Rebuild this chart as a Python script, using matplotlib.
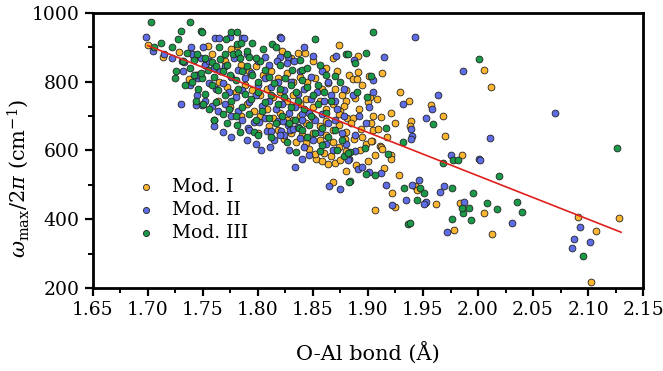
import matplotlib
matplotlib.use("Agg")
import matplotlib.pyplot as plt
from matplotlib.ticker import MultipleLocator

plt.rcParams['font.family'] = ['DejaVu Serif']
plt.rcParams['mathtext.fontset'] = 'dejavuserif'

# Mod. I (yellow)
mod1 = [(1.700,907),(1.714,873),(1.728,886),(1.737,808),(1.836,885),(1.843,885),(1.874,907),(1.891,875),
        (1.891,828),(1.883,820),(1.886,808),(1.890,808),(1.901,816),(1.913,825),(1.929,770),(1.937,744),
        (1.957,733),(1.968,701),(1.970,643),(1.939,685),(1.938,670),(1.921,709),(1.908,750),(1.902,756),
        (1.880,775),(1.888,753),(1.880,743),(1.878,728),(1.875,714),(1.905,701),(1.912,698),(1.881,695),
        (1.886,695),(1.903,680),(1.894,661),(1.905,659),(1.909,663),(1.917,640),(1.887,634),(1.879,634),
        (1.904,627),(1.898,620),(1.911,612),(1.985,588),(1.912,611),(1.913,603),(1.921,588),(1.921,574),
        (1.906,586),(1.903,627),(1.889,557),(1.928,528),(1.868,508),(1.922,475),(1.925,436),(1.906,426),
        (1.943,497),(1.945,485),(1.962,444),(1.984,446),(1.978,368),(2.005,834),(2.012,786),(2.005,419),
        (2.013,356),(2.091,407),(2.107,367),(2.128,403),(2.103,217),(1.824,634),(1.835,625),(1.844,622),
        (1.832,690),(1.853,574),(1.860,593),(1.864,561),(1.870,562),(1.875,571),(1.781,905),
        (1.758,880),(1.770,860),(1.776,895),(1.785,850),(1.792,830),(1.798,845),(1.805,820),(1.812,830),
        (1.818,810),(1.826,825),(1.832,800),(1.838,815),(1.845,800),(1.852,810),(1.858,780),(1.864,795),
        (1.870,780),(1.876,760),(1.765,800),(1.772,785),(1.780,770),(1.788,790),(1.795,775),(1.802,760),
        (1.808,780),(1.814,755),(1.820,770),(1.826,745),(1.832,760),(1.838,735),(1.844,750),(1.850,725),
        (1.856,745),(1.862,720),(1.868,735),(1.874,705),(1.790,735),(1.796,715),(1.802,700),(1.808,720),
        (1.814,695),(1.820,710),(1.826,690),(1.838,700),(1.844,680),(1.850,695),(1.856,670),(1.862,685),
        (1.868,660),(1.874,675),(1.880,655),(1.850,650),(1.856,630),(1.862,645),(1.868,625),(1.874,610),
        (1.880,598),(1.846,605),(1.852,590),(1.858,570),(1.866,585),(1.818,660),(1.810,670),(1.830,650),
        (1.840,645),(1.800,650),(1.785,700),(1.775,725),(1.764,745),(1.760,690),(1.752,850),(1.745,820),
        (1.742,870),(1.755,905),(1.830,870),(1.822,890),(1.850,860),(1.862,840),(1.868,870),(1.872,830),
        (1.895,790),(1.900,740),(1.892,720),(1.885,680),(1.895,640),(1.893,600),(1.900,570),(1.915,550),
        (1.880,540),(1.925,680)]

# Mod. II (blue)
mod2 = [(1.698,931),(1.739,902),(1.731,861),(1.733,857),(1.746,812),(1.730,735),(1.744,731),(1.749,731),
        (1.761,927),(1.765,927),(1.786,927),(1.820,930),(1.842,900),(1.850,876),(1.871,876),(1.806,873),
        (1.943,931),(1.986,832),(1.915,873),(1.887,862),(1.905,805),(1.932,736),(1.964,760),(1.958,721),
        (1.953,693),(1.939,661),(1.940,641),(1.939,634),(1.870,743),(1.901,725),(1.905,769),(1.888,646),
        (1.975,588),(2.001,574),(1.888,598),(1.883,574),(1.891,547),(1.895,553),(1.901,538),(1.912,535),
        (1.875,487),(1.916,500),(1.922,442),(1.935,457),(1.940,500),(1.946,513),(1.952,448),(1.953,450),
        (1.951,443),(1.965,480),(1.969,497),(1.987,451),(1.972,363),(2.070,710),(2.011,635),(2.002,573),
        (2.031,389),(2.093,376),(2.087,343),(2.102,334),(2.085,316),(1.786,690),(1.796,683),(1.801,683),
        (1.806,693),(1.791,664),(1.792,659),(1.790,630),(1.808,656),(1.812,658),(1.811,611),(1.818,687),
        (1.823,687),(1.827,675),(1.821,656),(1.824,646),(1.820,646),(1.829,660),(1.832,661),(1.836,668),
        (1.838,637),(1.842,610),(1.840,576),(1.834,552),(1.846,588),(1.840,706),(1.865,497),(1.882,572),
        (1.775,931),(1.787,927),(1.821,927),(1.778,869),(1.820,873),(1.827,873),(1.817,859),(1.826,854),
        (1.833,859),
        (1.705,890),(1.715,880),(1.722,870),(1.740,880),(1.748,870),(1.752,850),(1.756,860),(1.760,840),
        (1.766,830),(1.770,845),(1.776,815),(1.782,835),(1.788,810),(1.794,825),(1.800,790),(1.806,810),
        (1.812,785),(1.818,800),(1.824,775),(1.830,800),(1.836,765),(1.842,780),(1.848,750),(1.854,770),
        (1.860,745),(1.866,760),(1.872,720),(1.878,700),(1.756,795),(1.762,780),(1.768,795),(1.774,770),
        (1.780,755),(1.786,775),(1.792,740),(1.798,760),(1.804,730),(1.810,745),(1.816,720),(1.822,735),
        (1.828,710),(1.834,725),(1.840,690),(1.846,710),(1.852,690),(1.858,705),(1.864,680),(1.870,690),
        (1.745,760),(1.752,745),(1.758,730),(1.764,715),(1.770,735),(1.776,700),(1.782,715),(1.760,670),
        (1.768,655),(1.776,640),(1.798,620),(1.803,600),(1.815,630),(1.828,600),(1.850,630),(1.856,655),
        (1.862,620),(1.868,600),(1.876,650),(1.880,620),(1.790,880),(1.800,860),(1.810,850),(1.838,830),
        (1.848,815),(1.858,830),(1.864,800),(1.878,780),(1.886,760),(1.892,700),(1.898,680),(1.744,820),
        (1.738,790),(1.750,900),(1.732,830)]

# Mod. III (green)
mod3 = [(1.703,973),(1.738,975),(1.730,948),(1.748,948),(1.727,925),(1.712,912),(1.706,901),(1.722,902),
        (1.736,885),(1.742,864),(1.725,812),(1.749,811),(1.749,946),(1.776,946),(1.781,946),(1.771,924),
        (1.781,910),(1.785,912),(1.795,912),(1.813,910),(1.816,902),(1.852,924),(1.880,881),(1.870,816),
        (1.905,946),(1.882,881),(1.898,885),(1.888,854),(1.903,816),(1.899,756),(1.890,769),(1.959,677),
        (1.916,664),(1.932,624),(1.968,562),(1.977,571),(1.982,571),(1.918,591),(1.897,608),(1.884,595),
        (1.898,530),(1.906,528),(1.884,512),(1.933,492),(1.947,492),(1.951,477),(1.945,456),(1.976,490),
        (1.986,419),(1.992,432),(1.994,397),(1.976,400),(1.936,386),(1.938,390),(1.995,475),(2.001,867),
        (2.019,525),(2.126,606),(2.008,447),(2.017,430),(2.035,449),(2.040,421),(2.095,294),(1.985,433),
        (1.781,673),(1.796,653),(1.837,664),(1.835,596),(1.856,598),(1.878,583),(1.882,593),(1.883,508),
        (1.777,880),(1.782,883),(1.784,869),(1.792,871),(1.802,859),(1.831,835),(1.840,835),(1.845,840),
        (1.745,880),(1.752,870),(1.758,858),(1.762,845),(1.755,835),(1.748,825),(1.760,815),(1.768,830),
        (1.772,850),(1.766,865),(1.775,820),(1.780,805),(1.786,830),(1.790,845),(1.795,820),(1.800,800),
        (1.806,835),(1.810,815),(1.815,795),(1.820,780),(1.825,810),(1.830,790),(1.835,770),(1.840,805),
        (1.845,785),(1.850,760),(1.855,790),(1.860,770),(1.866,745),(1.758,790),(1.764,775),(1.770,760),
        (1.776,745),(1.782,780),(1.788,765),(1.794,750),(1.800,770),(1.806,740),(1.812,760),(1.818,735),
        (1.824,755),(1.830,725),(1.836,745),(1.842,720),(1.848,700),(1.855,735),(1.862,710),(1.752,765),
        (1.746,780),(1.740,800),(1.744,745),(1.750,735),(1.756,720),(1.762,740),(1.768,705),(1.774,720),
        (1.780,700),(1.786,725),(1.792,705),(1.798,690),(1.804,715),(1.810,695),(1.816,680),(1.822,700),
        (1.828,680),(1.834,690),(1.840,660),(1.846,675),(1.852,650),(1.858,665),(1.864,640),(1.870,660),
        (1.876,630),(1.760,690),(1.772,680),(1.784,655),(1.800,645),(1.812,640),(1.826,625),(1.845,640),
        (1.858,615),(1.872,600),(1.738,840),(1.732,860),(1.742,820),(1.726,830),(1.734,790),(1.765,900),
        (1.790,890),(1.805,895),(1.826,880),(1.838,862),(1.856,850),(1.862,820),(1.875,800),(1.820,850),
        (1.798,870),(1.770,880)]

fit_x = [1.70, 2.13]
fit_y = [905, 362]

series = [("Mod. I", mod1, "#FDB62F"), ("Mod. II", mod2, "#5E6CE6"), ("Mod. III", mod3, "#1A9A48")]

fig = plt.figure(figsize=(6.63, 3.71), dpi=100)
ax = fig.add_axes([0.140, 0.224, 0.830, 0.741])

for name, pts, col in series:
    xs = [p[0] for p in pts]
    ys = [p[1] for p in pts]
    ax.scatter(xs, ys, s=24, c=col, edgecolors="#222222", linewidths=0.6, label=name, zorder=2)

ax.plot(fit_x, fit_y, color="#E0201B", lw=1.2, zorder=3)

ax.set_xlim(1.65, 2.15)
ax.set_ylim(200, 1000)
ax.xaxis.set_major_locator(MultipleLocator(0.05))
ax.xaxis.set_minor_locator(MultipleLocator(0.025))
ax.yaxis.set_major_locator(MultipleLocator(200))
ax.yaxis.set_minor_locator(MultipleLocator(100))
ax.xaxis.set_major_formatter(plt.FormatStrFormatter("%.2f"))

for s in ax.spines.values():
    s.set_linewidth(2)
ax.tick_params(which="major", direction="out", length=6, width=1.6, labelsize=13.5, top=False, right=False)
ax.tick_params(which="minor", direction="out", length=3.5, width=1.4, top=False, right=False)

ax.set_xlabel("O-Al bond (Å)", fontsize=15, labelpad=16)
ax.set_ylabel(r"$\omega_{\rm max}/2\pi$ (cm$^{-1}$)", fontsize=15)
ax.yaxis.set_label_coords(-0.112, 0.40)

leg = ax.legend(loc="upper left", bbox_to_anchor=(0.045, 0.46), frameon=False, fontsize=13.5,
                markerscale=0.9, handletextpad=0.8, labelspacing=0.25, handlelength=1.2)

fig.savefig("out.png", dpi=100)
